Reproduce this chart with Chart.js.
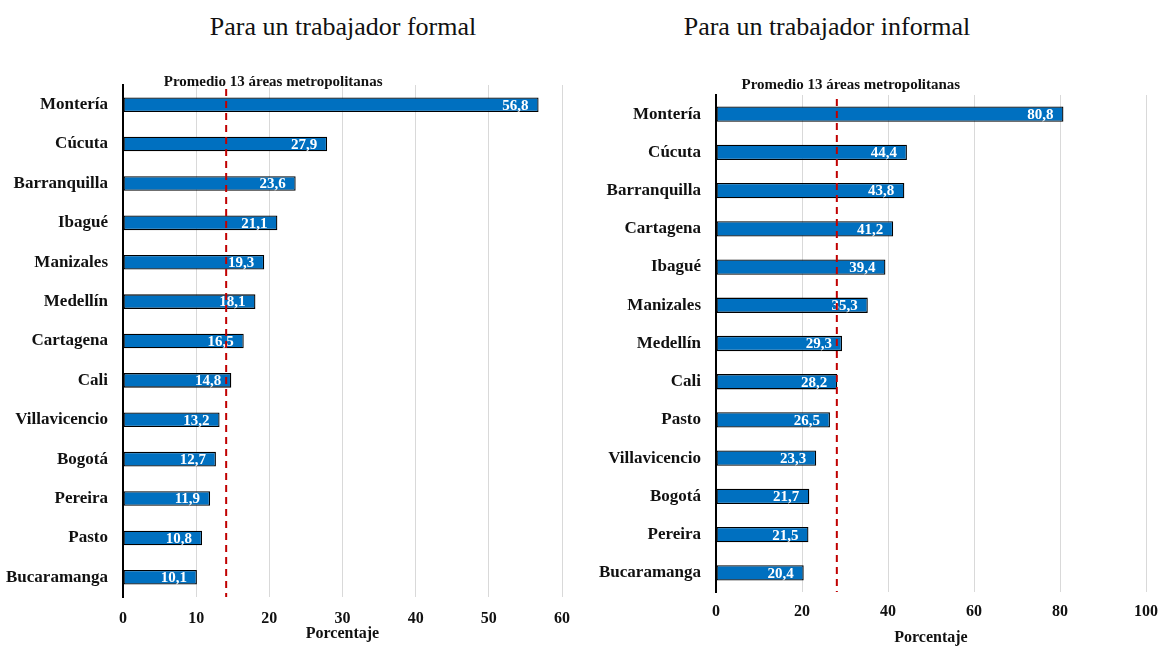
<!DOCTYPE html>
<html>
<head>
<meta charset="utf-8">
<script src="https://cdn.jsdelivr.net/npm/chart.js@4/dist/chart.umd.min.js"></script>
<style>
  body { margin: 0; background: #fff; width: 1168px; height: 648px; position: relative; overflow: hidden; }
  .titulo { position: absolute; top: 10px; font-family: "Liberation Serif", serif; font-size: 26px; color: #111; white-space: nowrap; transform: translateX(-50%); line-height: 34px; }
  canvas { position: absolute; top: 0; }
</style>
</head>
<body>
<div class="titulo" style="left:343px">Para un trabajador formal</div>
<div class="titulo" style="left:827px">Para un trabajador informal</div>
<canvas id="formal" width="584" height="648" style="left:0"></canvas>
<canvas id="informal" width="584" height="648" style="left:584px"></canvas>
<script>
// datos
const ciudadesFormal = ['Montería', 'Cúcuta', 'Barranquilla', 'Ibagué', 'Manizales', 'Medellín', 'Cartagena', 'Cali', 'Villavicencio', 'Bogotá', 'Pereira', 'Pasto', 'Bucaramanga'];
const valoresFormal = [56.8, 27.9, 23.6, 21.1, 19.3, 18.1, 16.5, 14.8, 13.2, 12.7, 11.9, 10.8, 10.1];
const promedioFormal = 14.1;

const ciudadesInformal = ['Montería', 'Cúcuta', 'Barranquilla', 'Cartagena', 'Ibagué', 'Manizales', 'Medellín', 'Cali', 'Pasto', 'Villavicencio', 'Bogotá', 'Pereira', 'Bucaramanga'];
const valoresInformal = [80.8, 44.4, 43.8, 41.2, 39.4, 35.3, 29.3, 28.2, 26.5, 23.3, 21.7, 21.5, 20.4];
const promedioInformal = 28.1;

const etiquetaPromedio = 'Promedio 13 áreas metropolitanas';
const tituloEje = 'Porcentaje';

const fuente = '"Liberation Serif", serif';

// etiquetas de valor + linea de promedio
const promedioPlugin = {
    id: 'promedio',
    afterDatasetsDraw(chart, args, opts) {
        const ctx = chart.ctx;
        const area = chart.chartArea;
        const meta = chart.getDatasetMeta(0);
        const vals = chart.data.datasets[0].data;

        ctx.save();
        ctx.fillStyle = '#fff';
        ctx.font = 'bold 15px ' + fuente;
        ctx.textAlign = 'right';
        ctx.textBaseline = 'middle';
        meta.data.forEach((bar, i) => {
            ctx.fillText(vals[i].toFixed(1).replace('.', ','), bar.x - 10, bar.y + 1);
        });

        const x = chart.scales.x.getPixelForValue(opts.valor);
        ctx.strokeStyle = '#C00000';
        ctx.lineWidth = 2;
        ctx.setLineDash([7, 5]);
        ctx.beginPath();
        ctx.moveTo(x, area.top + 4);
        ctx.lineTo(x, area.bottom);
        ctx.stroke();

        ctx.fillStyle = '#111';
        ctx.font = 'bold 15px ' + fuente;
        ctx.textAlign = 'center';
        ctx.fillText(etiquetaPromedio, x + opts.dx, area.top + opts.dy);
        ctx.restore();
    }
};

function crearGrafico(id, ciudades, valores, promedio, maximo, paso, cfg) {
    return new Chart(document.getElementById(id), {
        type: 'bar',
        data: {
            labels: ciudades,
            datasets: [{
                data: valores,
                backgroundColor: '#0070C0',
                borderColor: '#000',
                borderWidth: 1.3,
                borderSkipped: false,
                barPercentage: cfg.barPct,
                categoryPercentage: 1
            }]
        },
        options: {
            indexAxis: 'y',
            responsive: false,
            animation: false,
            devicePixelRatio: 1,
            layout: { padding: cfg.padding },
            plugins: {
                legend: { display: false },
                tooltip: { enabled: false },
                promedio: { valor: promedio, dx: cfg.dx, dy: cfg.dy }
            },
            scales: {
                x: {
                    min: 0,
                    max: maximo,
                    ticks: { stepSize: paso, padding: cfg.tickPad, color: '#111', font: { family: fuente, size: 16, weight: 'bold' } },
                    grid: { color: '#d9d9d9', drawTicks: false },
                    border: { display: false },
                    title: { display: true, text: tituloEje, color: '#111', padding: 0, font: { family: fuente, size: 16, weight: 'bold' } },
                    afterFit(scale) { scale.height = cfg.xHeight; }
                },
                y: {
                    ticks: { padding: 15, color: '#111', font: { family: fuente, size: 17, weight: 'bold' } },
                    grid: { display: false, drawTicks: false },
                    border: { display: true, color: '#000', width: 2 },
                    afterFit(scale) { scale.width = cfg.yWidth; }
                }
            }
        },
        plugins: [promedioPlugin]
    });
}

crearGrafico('formal', ciudadesFormal, valoresFormal, promedioFormal, 60, 10, {
    barPct: 0.37, padding: { top: 85, right: 22, bottom: 5, left: 0 },
    yWidth: 123, xHeight: 46, tickPad: 12, dx: 47, dy: -3
});
crearGrafico('informal', ciudadesInformal, valoresInformal, promedioInformal, 100, 20, {
    barPct: 0.40, padding: { top: 95, right: 14, bottom: 1, left: 0 },
    yWidth: 132, xHeight: 55, tickPad: 10, dx: 14, dy: -10
});
</script>
</body>
</html>
